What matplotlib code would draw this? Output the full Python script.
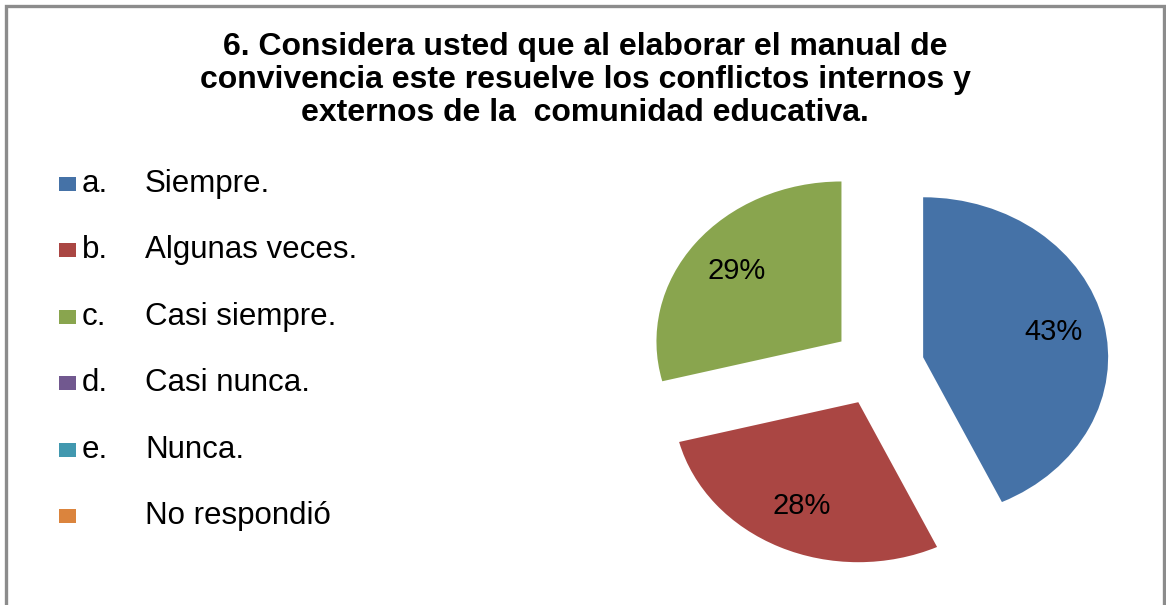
import matplotlib
matplotlib.use("Agg")
import matplotlib.pyplot as plt
from matplotlib.patches import Rectangle

plt.rcParams['font.family'] = ['Liberation Sans', 'DejaVu Sans']

title = ("6. Considera usted que al elaborar el manual de\n"
         "convivencia este resuelve los conflictos internos y\n"
         "externos de la  comunidad educativa.")
letters = ["a.", "b.", "c.", "d.", "e.", ""]
categories = ["Siempre.", "Algunas veces.", "Casi siempre.", "Casi nunca.", "Nunca.", "No respondió"]
values = [43, 28, 29, 0, 0, 0]
colors = ["#4572A7", "#AA4643", "#89A54E", "#71588F", "#4198AF", "#DB843D"]

W, H = 1166, 605
fig = plt.figure(figsize=(W / 100, H / 100), dpi=100)
fig.patch.set_facecolor("white")

def fx(px):
    return px / W

def fy(py):
    return 1 - py / H

# border (no bottom edge visible)
border = Rectangle((fx(6), fy(640)), fx(1164) - fx(6), fy(6) - fy(640),
                   transform=fig.transFigure, fill=False, edgecolor="#8c8c8c",
                   linewidth=2.4, clip_on=False)
fig.patches.append(border)

fig.text(fx(585), fy(80), title, ha="center", va="center", fontsize=23,
         fontweight="bold", linespacing=1.14, color="black")

# pie
cx, cy, rx, ry = 878, 366, 185, 160
lim = 1.3
ax = fig.add_axes([fx(cx - rx * lim), fy(cy + ry * lim),
                   2 * rx * lim / W, 2 * ry * lim / H])
vals = [v for v in values if v > 0]
cols = [c for v, c in zip(values, colors) if v > 0]
wedges, texts, autotexts = ax.pie(vals, colors=cols, startangle=90, counterclock=False,
                                  explode=[0.25] * len(vals), autopct='%1.0f%%',
                                  pctdistance=0.72, textprops=dict(fontsize=21, color="black"))
ax.set_xlim(-lim, lim)
ax.set_ylim(-lim, lim)
ax.set_aspect('auto')
ax.axis('off')

# legend
for i, (let, cat, col) in enumerate(zip(letters, categories, colors)):
    y = 184 + 66.4 * i
    fig.patches.append(Rectangle((fx(59), fy(y + 7)), fx(76) - fx(59), fy(y - 7) - fy(y + 7),
                                 transform=fig.transFigure, facecolor=col, edgecolor="none"))
    fig.text(fx(82), fy(y), let, ha="left", va="center", fontsize=22.5, color="black")
    fig.text(fx(145), fy(y), cat, ha="left", va="center", fontsize=22.5, color="black")

fig.savefig("out.png", dpi=100)
